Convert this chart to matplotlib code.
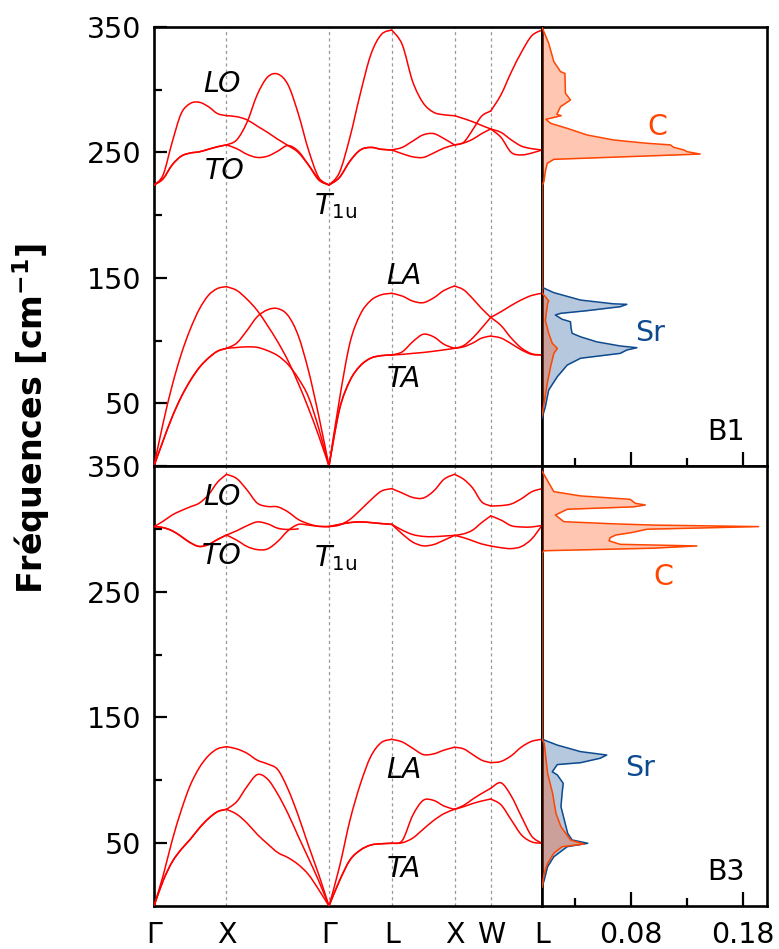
import numpy as np
import matplotlib
matplotlib.use("Agg")
import matplotlib.pyplot as plt
from matplotlib.path import Path
from matplotlib.patches import PathPatch

plt.rcParams['font.family'] = 'DejaVu Sans'
plt.rcParams['mathtext.fontset'] = 'dejavusans'

nan = np.nan

# path G-X-G-L-X-W-L, segment lengths in 2pi/a units
seg_len = [1.0, np.sqrt(2), np.sqrt(3) / 2, np.sqrt(3) / 2, 0.5, np.sqrt(2) / 2]
seg_pts = [8, 10, 6, 6, 4, 5]  # samples read per segment
kpt_labels = ["Γ", "X", "Γ", "L", "X", "W", "L"]

kpt_pos = np.concatenate([[0], np.cumsum(seg_len)])
kgrid = [0.0]
for i in range(len(seg_len)):
    kgrid += list(np.linspace(kpt_pos[i], kpt_pos[i + 1], seg_pts[i] + 1)[1:])
kgrid = np.array(kgrid)
seg_edges = np.concatenate([[0], np.cumsum(seg_pts)])  # index of each high-sym point

# ---- B1 phonon branches (cm-1) ----
b1_la = [0, 34, 64, 89, 109, 125, 136, 141.5, 143,
         140, 133, 124, 112, 99, 84, 66, 46, 24, 0,
         53, 98, 121, 132, 136.5, 137.7,
         135.5, 131.5, 130.2, 134, 140, 143.5,
         140.5, 133.5, 125.5, 118.5,
         123, 128, 132.5, 136, 137.7]
b1_ta1 = [0, 20, 39, 55, 68, 78.5, 86, 91.5, 93.8,
          98, 108, 119, 124.5, 125.5, 120, 104, 76, 40, 0,
          45, 68, 80, 86, 88, 88.5,
          91, 99, 105, 103, 97, 93.8,
          96, 102, 110, 118.5,
          112, 102, 94, 89.5, 88.5]
b1_ta2 = [0, 20, 39, 55, 68, 78.5, 86, 91.5, 93.8,
          94.5, 95, 94.6, 92, 88, 81, 70, 55, 30, 0,
          45, 68, 80, 86, 88, 88.5,
          89, 89.8, 90.5, 91.5, 92.6, 93.8,
          95, 98, 102, 103.6,
          102, 97.5, 92.5, 89, 88.5]
b1_lo = [224, 232, 258, 281, 289, 290, 286.5, 281, 279.3,
         278.5, 276, 271, 266, 260.5, 255.5, 250, 240, 229, 224,
         234, 262, 297, 328, 344, 347.6,
         336, 306.5, 289.5, 282, 280, 279.3,
         277, 274.5, 271.5, 268.7,
         266, 260, 255, 253, 252]
b1_to1 = [224, 229, 240, 247, 249.5, 250.5, 252.5, 254.5, 256,
          260, 274, 296, 310, 312.5, 304, 281, 252, 230, 224,
          230, 243, 252, 254, 252.5, 252,
          254, 259, 264, 265, 261, 256,
          258, 268, 279, 283,
          296, 314, 330, 343, 347.6]
b1_to2 = [224, 229, 240, 247, 249.5, 250.5, 252.5, 254.5, 256,
          253, 248.5, 246, 247, 251, 255.5, 251, 240, 228, 224,
          230, 243, 252, 254, 252.5, 252,
          249, 246.5, 246, 249.5, 253.5, 256,
          257.5, 260.5, 265, 268.7,
          262, 250, 248, 249.5, 252]

# ---- B3 phonon branches ----
b3_la = [0, 24, 52, 76, 96, 110, 119.5, 125, 126.7,
         125, 121.5, 116, 113, 108.5, 93, 72, 48, 25, 0,
         31, 68, 97, 119, 130, 132.6,
         130.5, 125.5, 120.5, 121, 124, 126.3,
         125, 120.5, 116, 114,
         115, 119.5, 126.5, 131, 132.6]
b3_ta1 = [0, 20, 35, 45, 53, 62, 69.5, 75, 76.9,
          83, 95, 104.5, 101, 89, 73.5, 55.5, 38, 20, 0,
          20, 36.5, 44.5, 48.5, 49.5, 49.9,
          52, 72, 84, 84, 79.5, 76.9,
          80, 85, 89.5, 93.6,
          98, 87.5, 71, 55.5, 49.9]
b3_ta2 = [0, 20, 35, 45, 53, 62, 69.5, 75, 76.9,
          73, 66, 57, 49.5, 42.5, 38.5, 33, 25, 13, 0,
          20, 36.5, 44.5, 48.5, 49.5, 49.9,
          50.3, 54, 61, 68, 73.5, 76.9,
          79, 81.5, 83.5, 85.1,
          80.5, 68.5, 56.5, 51, 49.9]
b3_lo = [301.8, 306, 311, 314.5, 317.5, 320.5, 327, 337, 343.4,
         340, 331, 320.5, 317.8, 317.5, 313.5, 307.5, 304, 302, 301.8,
         303, 307.5, 315, 323, 330, 332,
         328.5, 325, 324.5, 330, 339.5, 343.4,
         339.5, 332.5, 321.5, 318.2,
         318.5, 319.8, 324, 329.5, 332]
b3_to1 = [301.8, 301, 298.5, 294, 289, 286, 287.5, 291.5, 295.1,
          298.5, 302.5, 305.5, 304, 300.5, 299.5, 300, nan, nan, 301.8,
          303.5, 305, 305.5, 305, 304.2, 303.6,
          299, 295.5, 294, 293.8, 294.3, 294.8,
          296, 299, 305, 310.3,
          307, 302.5, 301.5, 301.5, 302.8]
b3_to2 = [301.8, 301, 298.5, 294, 289, 286, 287.5, 291.5, 295.1,
          291, 286, 283.5, 284, 290, 298.5, 303.5, 303, 302, 301.8,
          303.5, 305, 305.5, 305, 304.2, 303.6,
          296, 289.5, 286.5, 287.5, 291, 294.8,
          293, 290.5, 288, 286.4,
          285, 284.3, 286, 292, 302.8]

# ---- projected DOS (freq in cm-1, dos) ----
c_b1_freq = [40, 52.6, 65.9, 79.2, 89.8, 93.8, 97.8, 105.8, 116, 129.7,
             131.5, 135, 138, 224, 226.7, 235, 241.3, 244.5, 248.7, 250.6,
             252, 254.1, 256, 257.3, 259.9, 263.9, 269.2, 273.2, 276.4, 279.3,
             280.4, 286.5, 291.8, 297.2, 313, 314.4, 322.4, 337, 346.2, 350]
c_b1_dos = [0, 0.0023, 0.0047, 0.0077, 0.0106, 0.0137, 0.0092, 0.006, 0.003, 0.005,
            0.006, 0.003, 0, 0, 0.0017, 0.003, 0.0047, 0.0106, 0.1416, 0.130,
            0.127, 0.1178, 0.115, 0.094, 0.0642, 0.0404, 0.0226, 0.0077, 0.0035, 0.0172,
            0.0133, 0.0166, 0.0255, 0.021, 0.0205, 0.0166, 0.0106, 0.006, 0.0017, 0]
sr_b1_freq = [38, 47.3, 60.6, 71.2, 80.5, 85.9, 89.8, 92.5, 94.3, 95.7, 99, 103, 105.8,
              110, 115, 117, 120.4, 121.7, 123.8, 127, 128.9, 129.3, 132.3, 138.2, 142.5]
sr_b1_dos = [0, 0.003, 0.006, 0.0137, 0.0226, 0.0345, 0.070, 0.076, 0.085, 0.070, 0.049,
             0.0345, 0.027, 0.026, 0.0255, 0.018, 0.012, 0.0166, 0.040, 0.070, 0.076,
             0.064, 0.0345, 0.0106, 0.0]

c_b3_freq = [15, 26, 34, 42, 47.2, 49.3, 52.5, 63, 73.7, 89.6,
             105.6, 121.5, 129.4, 133, 281, 282.6, 284.6, 286.4, 287.7, 290.5,
             293, 295.1, 297, 299.7, 301.8, 303, 304, 305.7, 311, 315.6,
             317.5, 319, 320.3, 323.5, 326.2, 329.6, 342.9, 346]
c_b3_dos = [0, 0.002, 0.005, 0.0106, 0.018, 0.0375, 0.0255, 0.017, 0.0125, 0.0095,
            0.005, 0.003, 0.002, 0, 0, 0.002, 0.099, 0.1387, 0.070, 0.060,
            0.061, 0.066, 0.080, 0.094, 0.194, 0.10, 0.064, 0.0196, 0.012, 0.0226,
            0.082, 0.0925, 0.0836, 0.079, 0.0345, 0.0106, 0.002, 0]
sr_b3_freq = [15, 20.7, 31.3, 39.2, 47.2, 49.9, 52.5, 57.8, 68.4, 79, 89.6, 97.6,
              104.3, 106.8, 112.5, 114, 117.5, 120.1, 122.8, 128, 132, 134]
sr_b3_dos = [0, 0.002, 0.005, 0.0106, 0.0226, 0.041, 0.027, 0.023, 0.020, 0.017, 0.018,
             0.019, 0.0137, 0.0092, 0.0137, 0.0345, 0.052, 0.058, 0.0345, 0.0137, 0.002, 0]

col_band = '#ff0000'
col_c = '#ff4500'
col_sr = '#0d4a8f'
fs = 20.5


def smooth_band(ax, x, y, **kw):
    # draw a branch segment by segment as a smooth curve through the read points
    x = np.asarray(x, float)
    y = np.asarray(y, float)
    for s in range(len(seg_edges) - 1):
        xs = x[seg_edges[s]:seg_edges[s + 1] + 1]
        ys = y[seg_edges[s]:seg_edges[s + 1] + 1]
        idx = np.where(~np.isnan(ys))[0]
        for r in np.split(idx, np.where(np.diff(idx) > 1)[0] + 1):
            if len(r) < 2:
                continue
            px, py = xs[r], ys[r]
            n = len(px)
            verts = [(px[0], py[0])]
            codes = [Path.MOVETO]
            for i in range(n - 1):
                i0 = max(i - 1, 0)
                i3 = min(i + 2, n - 1)
                c1 = (px[i] + (px[i + 1] - px[i0]) / 6, py[i] + (py[i + 1] - py[i0]) / 6)
                c2 = (px[i + 1] - (px[i3] - px[i]) / 6, py[i + 1] - (py[i3] - py[i]) / 6)
                verts += [c1, c2, (px[i + 1], py[i + 1])]
                codes += [Path.CURVE4] * 3
            ax.add_patch(PathPatch(Path(verts, codes), fill=False, capstyle='round',
                                   joinstyle='round', **kw))


fig = plt.figure(figsize=(7.79, 9.49), dpi=100)
W, H = 779.0, 949.0
ax_b1 = fig.add_axes([154 / W, 1 - 466 / H, 388 / W, 439 / H])
ax_d1 = fig.add_axes([542 / W, 1 - 466 / H, 225 / W, 439 / H])
ax_b3 = fig.add_axes([154 / W, 1 - 906 / H, 388 / W, 440 / H])
ax_d3 = fig.add_axes([542 / W, 1 - 906 / H, 225 / W, 440 / H])

panels = [
    (ax_b1, ax_d1, [b1_la, b1_ta1, b1_ta2, b1_lo, b1_to1, b1_to2],
     c_b1_freq, c_b1_dos, sr_b1_freq, sr_b1_dos, "B1"),
    (ax_b3, ax_d3, [b3_la, b3_ta1, b3_ta2, b3_lo, b3_to1, b3_to2],
     c_b3_freq, c_b3_dos, sr_b3_freq, sr_b3_dos, "B3"),
]

for ax, axd, bands, cf, cd, sf, sd, name in panels:
    # dispersion
    for kp in kpt_pos[1:-1]:
        ax.axvline(kp, color='#999999', lw=0.9, ls=(0, (2.5, 2.5)), zorder=1)
    for b in bands:
        smooth_band(ax, kgrid, b, edgecolor=col_band, lw=1.1, zorder=3)
    ax.set_xlim(kpt_pos[0], kpt_pos[-1])
    ax.set_ylim(0, 350)
    ax.set_yticks([50, 150, 250, 350])
    ax.set_yticks([100, 200, 300], minor=True)
    ax.tick_params(axis='y', which='major', direction='in', length=9, width=1.6,
                   labelsize=fs, pad=9)
    ax.tick_params(axis='y', which='minor', direction='in', length=6, width=1.6)
    ax.set_xticks(kpt_pos)
    ax.set_xticklabels(kpt_labels)
    ax.tick_params(axis='x', length=0, labelsize=fs, pad=11)

    # projected dos
    axd.fill_betweenx(sf, 0, sd, color=col_sr, alpha=0.3, lw=0, zorder=2)
    axd.fill_betweenx(cf, 0, cd, color=col_c, alpha=0.3, lw=0, zorder=3)
    axd.plot(sd, sf, color=col_sr, lw=1.1, zorder=4)
    axd.plot(cd, cf, color=col_c, lw=1.1, zorder=5)
    axd.set_xlim(0, 0.2015)
    axd.set_ylim(0, 350)
    axd.set_yticks([])
    axd.set_xticks([0.08, 0.18])
    axd.set_xticklabels(["0.08", "0.18"])
    axd.set_xticks([0.03, 0.13], minor=True)
    axd.tick_params(axis='x', which='major', direction='in', length=10, width=1.6,
                    labelsize=fs, pad=11)
    axd.tick_params(axis='x', which='minor', direction='in', length=6, width=1.6)
    axd.text(0.165, 27, name, fontsize=fs, ha='center', va='center')

    for a in (ax, axd):
        for s in a.spines.values():
            s.set_linewidth(1.9)

ax_b1.tick_params(axis='x', labelbottom=False)
ax_d1.tick_params(axis='x', labelbottom=False)

# branch labels
ax_b1.text(0.94, 304.5, "LO", style='italic', fontsize=fs, ha='center', va='center')
ax_b1.text(0.98, 235, "TO", style='italic', fontsize=fs, ha='center', va='center')
ax_b1.text(2.50, 207, r"$T_{\rm 1u}$", fontsize=fs, ha='center', va='center')
ax_b1.text(3.45, 151.5, "LA", style='italic', fontsize=fs, ha='center', va='center')
ax_b1.text(3.45, 69.5, "TA", style='italic', fontsize=fs, ha='center', va='center')

ax_b3.text(0.94, 325.5, "LO", style='italic', fontsize=fs, ha='center', va='center')
ax_b3.text(0.94, 278.5, "TO", style='italic', fontsize=fs, ha='center', va='center')
ax_b3.text(2.50, 277, r"$T_{\rm 1u}$", fontsize=fs, ha='center', va='center')
ax_b3.text(3.45, 108, "LA", style='italic', fontsize=fs, ha='center', va='center')
ax_b3.text(3.45, 29.5, "TA", style='italic', fontsize=fs, ha='center', va='center')

ax_d1.text(0.103, 270, "C", color=col_c, fontsize=fs, ha='center', va='center')
ax_d1.text(0.097, 106, "Sr", color=col_sr, fontsize=fs, ha='center', va='center')
ax_d3.text(0.1085, 262, "C", color=col_c, fontsize=fs, ha='center', va='center')
ax_d3.text(0.088, 110, "Sr", color=col_sr, fontsize=fs, ha='center', va='center')

fig.text(31 / W, 1 - 418 / H, r"Fréquences [cm$^{\mathbf{-1}}$]", rotation=90,
         fontsize=24, fontweight='bold', ha='center', va='center')

fig.savefig("out.png", dpi=100)
